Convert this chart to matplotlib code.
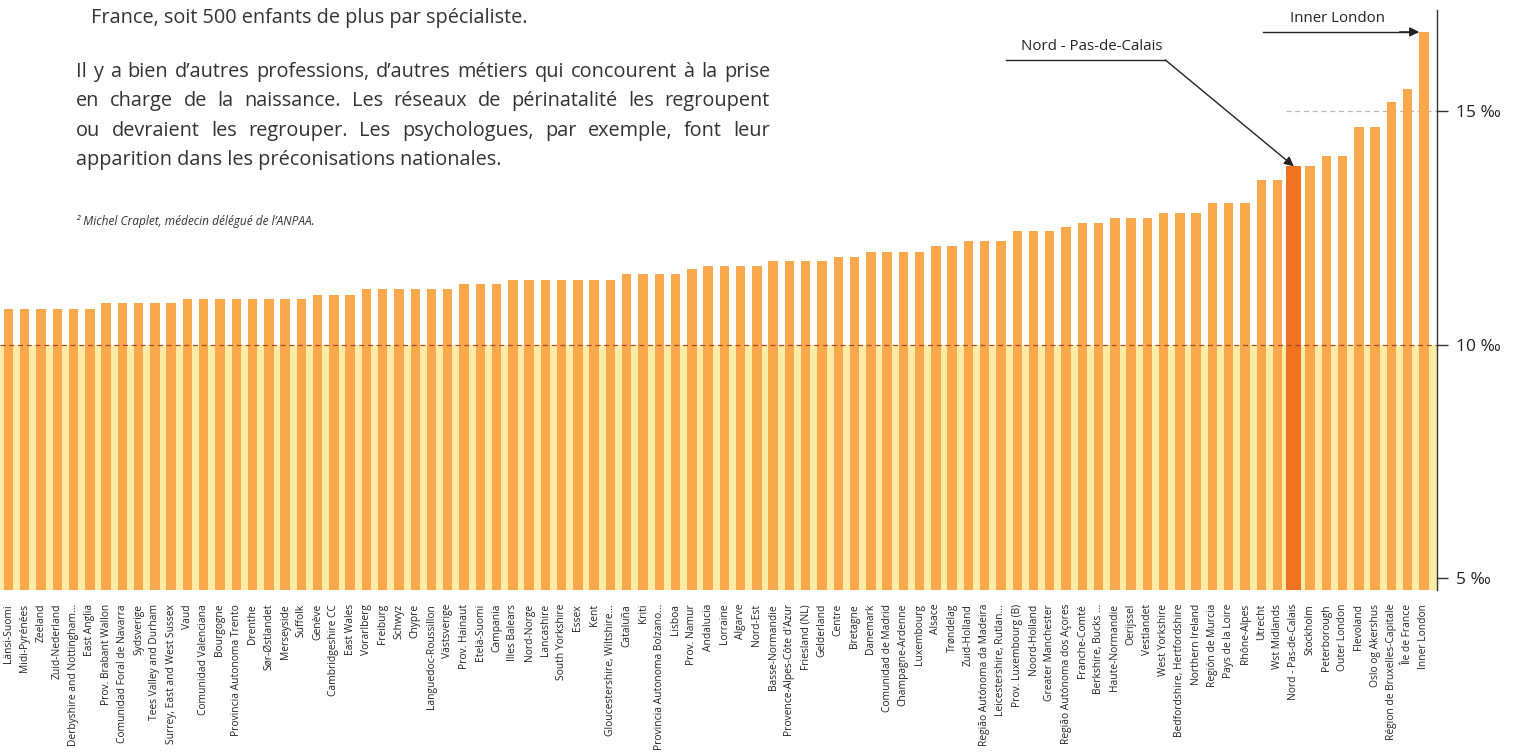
import numpy as np
import matplotlib
matplotlib.use("Agg")
import matplotlib.pyplot as plt

plt.rcParams['font.family'] = ['Open Sans', 'DejaVu Sans']

# ---------------------------------------------------------------------------
# Data (per mille)
# ---------------------------------------------------------------------------
regions = [
    "Länsi-Suomi", "Midi-Pyrénées", "Zeeland", "Zuid-Nederland",
    "Derbyshire and Nottingham...", "East Anglia", "Prov. Brabant Wallon",
    "Comunidad Foral de Navarra", "Sydsverige", "Tees Valley and Durham",
    "Surrey, East and West Sussex", "Vaud", "Comunidad Valenciana", "Bourgogne",
    "Provincia Autonoma Trento", "Drenthe", "Sør-Østlandet", "Merseyside",
    "Suffolk", "Genève", "Cambridgeshire CC", "East Wales", "Vorarlberg",
    "Freiburg", "Schwyz", "Chypre", "Languedoc-Roussillon", "Västsverige",
    "Prov. Hainaut", "Etelä-Suomi", "Campania", "Illes Balears", "Nord-Norge",
    "Lancashire", "South Yorkshire", "Essex", "Kent",
    "Gloucestershire, Wiltshire...", "Cataluña", "Kriti",
    "Provincia Autonoma Bolzano...", "Lisboa", "Prov. Namur", "Andalucia",
    "Lorraine", "Algarve", "Nord-Est", "Basse-Normandie",
    "Provence-Alpes-Côte d'Azur", "Friesland (NL)", "Gelderland", "Centre",
    "Bretagne", "Danemark", "Comunidad de Madrid", "Champagne-Ardenne",
    "Luxembourg", "Alsace", "Trøndelag", "Zuid-Holland",
    "Região Autónoma da Madeira", "Leicestershire, Rutlan...",
    "Prov. Luxembourg (B)", "Noord-Holland", "Greater Manchester",
    "Região Autónoma dos Açores", "Franche-Comté", "Berkshire, Bucks ...",
    "Haute-Normandie", "Oerijssel", "Vestlandet", "West Yorkshire",
    "Bedfordshire, Hertfordshire", "Northern Ireland", "Región de Murcia",
    "Pays de la Loire", "Rhône-Alpes", "Utrecht", "Wst Midlands",
    "Nord - Pas-de-Calais", "Stockholm", "Peterborough", "Outer London",
    "Flevoland", "Oslo og Akershus", "Région de Bruxelles-Capitale",
    "Île de France", "Inner London",
]

rates = [
    10.77, 10.77, 10.77, 10.77, 10.77, 10.77, 10.88, 10.88, 10.90, 10.90,
    10.90, 10.98, 10.98, 10.98, 10.98, 10.98, 10.98, 10.98, 10.98, 11.07,
    11.07, 11.07, 11.20, 11.20, 11.20, 11.20, 11.20, 11.20, 11.30, 11.30,
    11.30, 11.39, 11.39, 11.39, 11.39, 11.39, 11.39, 11.39, 11.52, 11.52,
    11.52, 11.52, 11.62, 11.69, 11.69, 11.69, 11.69, 11.80, 11.80, 11.80,
    11.80, 11.88, 11.88, 11.99, 11.99, 11.99, 11.99, 12.12, 12.12, 12.22,
    12.22, 12.22, 12.44, 12.44, 12.44, 12.52, 12.60, 12.60, 12.71, 12.71,
    12.71, 12.82, 12.82, 12.82, 13.03, 13.03, 13.03, 13.53, 13.53, 13.82,
    13.82, 14.04, 14.04, 14.66, 14.66, 15.19, 15.47, 16.70,
]

highlight = "Nord - Pas-de-Calais"
top_label = "Inner London"

ytick_vals = [5, 10, 15]
ytick_labels = ["5 ‰", "10 ‰", "15 ‰"]

para_lines = [
    "Il y a bien d’autres professions, d’autres métiers qui concourent à la prise",
    "en charge de la naissance. Les réseaux de périnatalité les regroupent",
    "ou devraient les regrouper. Les psychologues, par exemple, font leur",
    "apparition dans les préconisations nationales.",
]
prev_line = "France, soit 500 enfants de plus par spécialiste."
footnote = "² Michel Craplet, médecin délégué de l’ANPAA."

# ---------------------------------------------------------------------------
# Figure
# ---------------------------------------------------------------------------
W, H = 1519, 753
fig = plt.figure(figsize=(W / 100, H / 100), dpi=100)
ax = fig.add_axes([0.0, 1 - 590 / H, 1437 / W, 580 / H])

bar_col = "#F9A94B"
hi_col = "#F07322"
band_col = "#FEEBA6"

x = np.arange(len(regions))
colors = [hi_col if r == highlight else bar_col for r in regions]
widths = [0.9 if r == highlight else 0.58 for r in regions]
ax.bar(x, rates, width=widths, color=colors, zorder=2)

ymin, ymax = 4.74, 17.17
ax.set_ylim(ymin, ymax)
ax.set_xlim(-0.52, len(regions) - 0.2)

# light band under 10 per mille
ax.axhspan(ymin, 10, color=band_col, zorder=0, lw=0)
ax.axhline(10, color="#B0442A", lw=0.9, ls=(0, (4, 3)), zorder=3)
ax.axhline(15, xmin=0.895, xmax=1.0, color="#B8B8B8", lw=0.9, ls=(0, (4, 3)), zorder=1)

# axes styling
for s in ["left", "top", "bottom"]:
    ax.spines[s].set_visible(False)
ax.spines["right"].set_color("#333333")
ax.spines["right"].set_linewidth(1.0)
ax.yaxis.tick_right()
ax.set_yticks(ytick_vals)
ax.set_yticklabels(ytick_labels, fontsize=12.5, color="#222222")
ax.tick_params(axis="y", direction="out", length=8, width=1.0, color="#333333", pad=6)

ax.set_xticks(x)
ax.set_xticklabels(regions, rotation=90, fontsize=7.4, color="#222222")
ax.tick_params(axis="x", length=0, pad=10)

# annotations
i_in = regions.index(top_label)
i_np = regions.index(highlight)
y_in = rates[i_in]
ax.plot([i_in - 9.9, i_in - 0.4], [y_in, y_in], color="#222222", lw=1.0, zorder=4)
ax.annotate("", xy=(i_in - 0.3, y_in), xytext=(i_in - 1.5, y_in),
            arrowprops=dict(arrowstyle="-|>", color="#222222", lw=1.0,
                            mutation_scale=14, shrinkA=0, shrinkB=0))
ax.text(i_in - 5.3, y_in + 0.12, top_label, ha="center", va="bottom",
        fontsize=10.8, color="#222222")

y_np = 16.1
ax.plot([i_np - 17.7, i_np - 7.9], [y_np, y_np], color="#222222", lw=1.0, zorder=4)
ax.annotate("", xy=(i_np, rates[i_np]), xytext=(i_np - 7.9, y_np),
            arrowprops=dict(arrowstyle="-|>", color="#222222", lw=1.0,
                            mutation_scale=14, shrinkA=0, shrinkB=0))
ax.text(i_np - 12.4, y_np + 0.12, highlight, ha="center", va="bottom",
        fontsize=10.8, color="#222222")

# ---------------------------------------------------------------------------
# Body text (justified paragraph)
# ---------------------------------------------------------------------------
txt_kw = dict(fontsize=14.3, color="#333333", va="center", ha="left")
fig.text(91 / W, 1 - 18 / H, prev_line, **txt_kw)

renderer = fig.canvas.get_renderer()
left_px, right_px = 76, 770
line_y = [72, 101, 131, 160]
for li, (line, ypx) in enumerate(zip(para_lines, line_y)):
    yf = 1 - ypx / H
    words = line.split(" ")
    if li == len(para_lines) - 1:
        fig.text(left_px / W, yf, line, **txt_kw)
        continue
    objs = [fig.text(0, yf, w, **txt_kw) for w in words]
    wids = [o.get_window_extent(renderer).width for o in objs]
    gap = (right_px - left_px - sum(wids)) / (len(words) - 1)
    pos = left_px
    for o, wd in zip(objs, wids):
        o.set_x(pos / W)
        pos += wd + gap

fig.text(76 / W, 1 - 222 / H, footnote, fontsize=8.6, style="italic",
         color="#333333", va="center", ha="left")

fig.savefig("out.png", dpi=100)
